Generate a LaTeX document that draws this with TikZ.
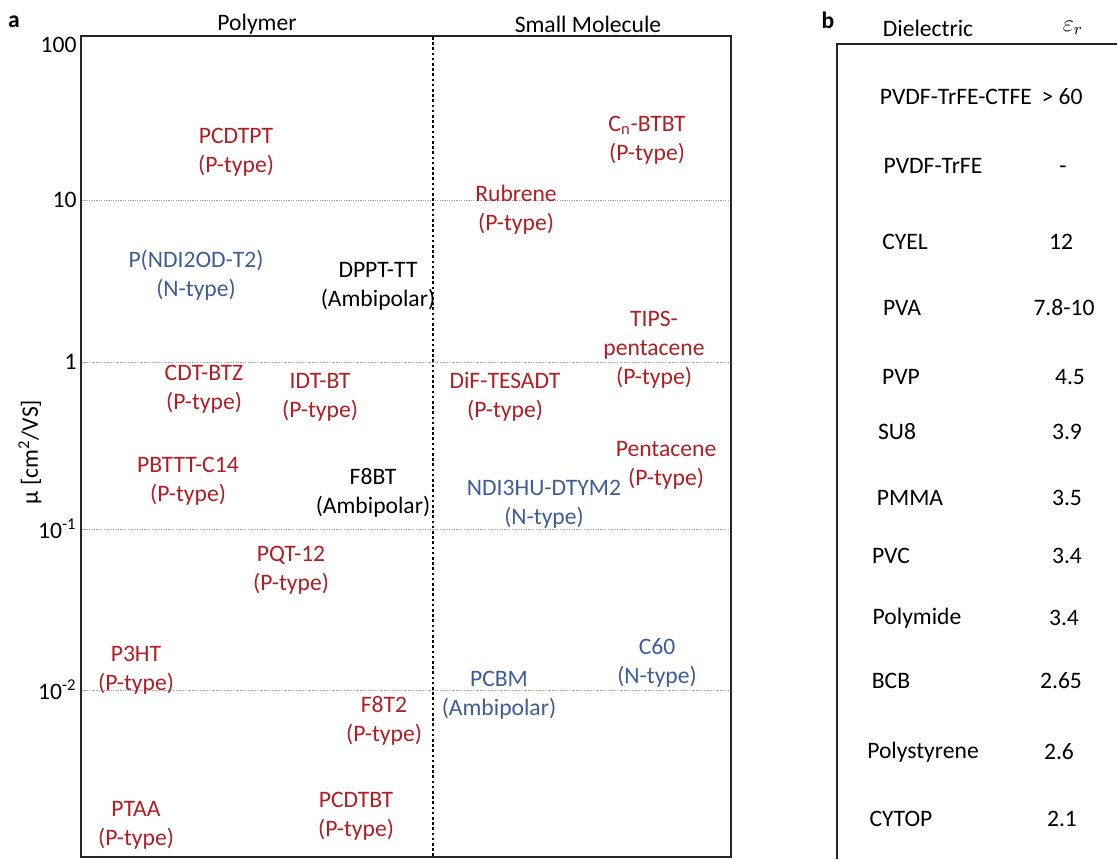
\documentclass[tikz,border=0pt]{standalone}
\usepackage{fontspec}
\setmainfont{Carlito}
\usetikzlibrary{positioning}

\definecolor{ptype}{RGB}{176,30,36}
\definecolor{ntype}{RGB}{62,92,150}

\tikzset{
  ptype/.style={text=ptype,yshift=-1.5pt},
  ntype/.style={text=ntype,yshift=-1.5pt},
  ambi/.style={text=black,yshift=-1.5pt},
  tick/.style={anchor=east},
  grid line/.style={gray!70,line width=0.4pt,dash pattern=on 0.6pt off 0.6pt},
}

\begin{document}
\begin{tikzpicture}[x=0.5pt,y=-0.5pt,every node/.style={font=\fontsize{11.8}{14.5}\selectfont,align=center,inner sep=0pt}]
\useasboundingbox (0,0) rectangle (1117,859);

% panel a
\node[font=\fontsize{11.8}{14.5}\selectfont\bfseries] (la) at (14,22) {a};
\node (poly) at (257,24) {Polymer};
\node (small) at (588,24) {Small Molecule};

\coordinate (tl) at (81,36);
\coordinate (br) at (731,857);
\foreach \yy in {200,362,529,690}
  \draw[grid line] (82,\yy) -- (730,\yy);
\draw[line width=0.8pt,black!85] (tl) rectangle (br);
\draw[line width=1.3pt,dash pattern=on 1.3pt off 1.3pt] (433,37) -- (433,856);

\node[tick] (t100) at (77,45) {100};
\node[tick] (t10) at (77,200) {10};
\node[tick] (t1) at (77,362) {1};
\node[tick] (tm1) at (77,529) {10\textsuperscript{-1}};
\node[tick] (tm2) at (77,690) {10\textsuperscript{-2}};
\node[rotate=90] (ylab) at (30,452) {μ [cm\textsuperscript{2}/VS]};

% polymers
\node[ptype] (pcdtpt) at (236,149) {PCDTPT\\(P-type)};
\node[ntype] (pndi) at (196,272) {P(NDI2OD-T2)\\(N-type)};
\node[ambi] (dppt) at (378,283) {DPPT-TT\\(Ambipolar)};
\node[ptype] (cdtbtz) at (204,386) {CDT-BTZ\\(P-type)};
\node[ptype] (idtbt) at (320,394) {IDT-BT\\(P-type)};
\node[ptype] (pbttt) at (188,478) {PBTTT-C14\\(P-type)};
\node[ambi] (f8bt) at (373,490) {F8BT\\(Ambipolar)};
\node[ptype] (pqt) at (291,567) {PQT-12\\(P-type)};
\node[ptype] (p3ht) at (136,667) {P3HT\\(P-type)};
\node[ptype] (f8t2) at (384,718) {F8T2\\(P-type)};
\node[ptype] (ptaa) at (136,822) {PTAA\\(P-type)};
\node[ptype] (pcdtbt) at (356,813) {PCDTBT\\(P-type)};

% small molecules
\node[ptype] (cnbtbt) at (647,137) {C\textsubscript{n}-BTBT\\(P-type)};
\node[ptype] (rubrene) at (516,207) {Rubrene\\(P-type)};
\node[ptype] (tips) at (654,347) {TIPS-\\pentacene\\(P-type)};
\node[ptype] (dif) at (505,394) {DiF-TESADT\\(P-type)};
\node[ptype] (pent) at (666,462) {Pentacene\\(P-type)};
\node[ntype] (ndi3hu) at (544,501) {NDI3HU-DTYM2\\(N-type)};
\node[ntype] (c60) at (657,660) {C60\\(N-type)};
\node[ntype] (pcbm) at (499,692) {PCBM\\(Ambipolar)};

% panel b
\node[font=\fontsize{11.8}{14.5}\selectfont\bfseries] (lb) at (828,20) {b};
\node (diel) at (928,28) {Dielectric};
\node (epsr) at (1073,28) {$\varepsilon_r$};
\draw[line width=0.8pt,black!85] (1117,44) -- (837,44) -- (837,859);

\node (d1) at (956,97) {PVDF-TrFE-CTFE};   \node (v1) at (1062,97) {> 60};
\node (d2) at (933,166) {PVDF-TrFE};       \node (v2) at (1063,166) {-\vphantom{PVDF}};
\node (d3) at (905,242) {CYEL};            \node (v3) at (1061,242) {12};
\node (d4) at (902,308) {PVA};             \node (v4) at (1064,308) {7.8-10};
\node (d5) at (901,377) {PVP};             \node (v5) at (1070,377) {4.5};
\node (d6) at (897,432) {SU8};             \node (v6) at (1067,432) {3.9};
\node (d7) at (910,498) {PMMA};            \node (v7) at (1067,498) {3.5};
\node (d8) at (891,556) {PVC};             \node (v8) at (1067,556) {3.4};
\node (d9) at (917,618) {Polymide};        \node (v9) at (1064,618) {3.4};
\node (d10) at (891,681) {BCB};            \node (v10) at (1061,681) {2.65};
\node (d11) at (923,752) {Polystyrene};    \node (v11) at (1059,752) {2.6};
\node (d12) at (901,819) {CYTOP};          \node (v12) at (1062,819) {2.1};
\end{tikzpicture}
\end{document}
